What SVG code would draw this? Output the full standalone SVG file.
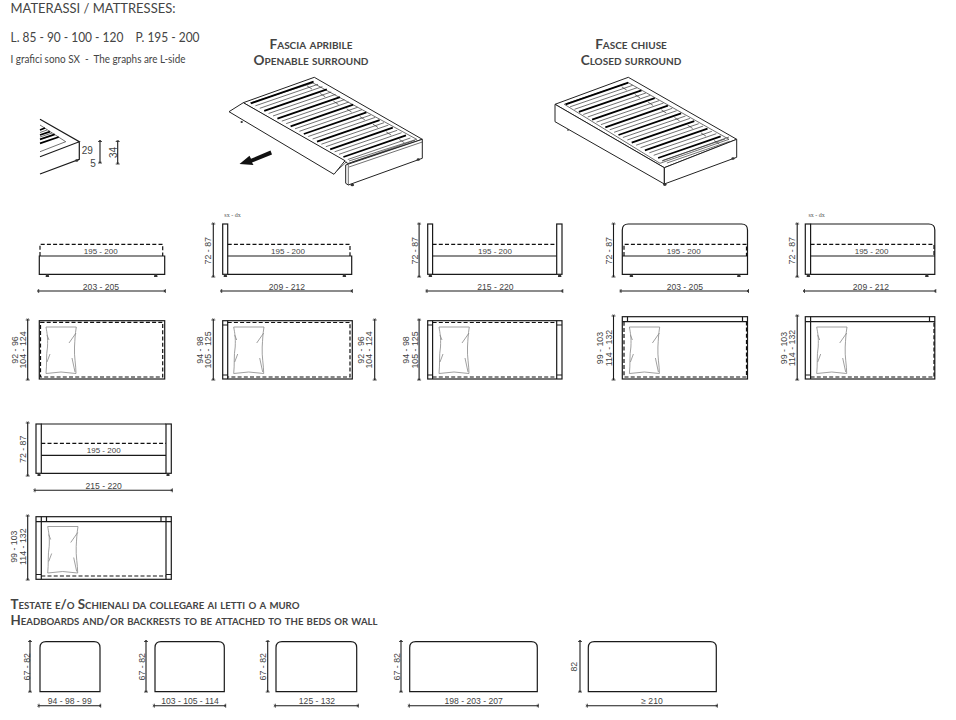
<svg xmlns="http://www.w3.org/2000/svg" xmlns:xlink="http://www.w3.org/1999/xlink" width="956" height="720" viewBox="0 0 956 720">
<style>
.bg{fill:#fff}
.o{fill:none;stroke:#1a1a1a;stroke-width:1.2}
.w{fill:#fff;stroke:#222;stroke-width:1}
.t{fill:none;stroke:#333;stroke-width:.7}
.k{fill:none;stroke:#000;stroke-width:1.8}
.d{fill:none;stroke:#111;stroke-width:1.2;stroke-dasharray:4 2.2}
.f{fill:#333}
.dim{fill:none;stroke:#1a1a1a;stroke-width:1.1;marker-start:url(#tick);marker-end:url(#tick)}
.n{font-family:"Liberation Sans",Arial,sans-serif;font-size:8px;fill:#444;text-anchor:middle}
.r{font-size:8.8px}
.l{font-size:8.6px}
.s{font-family:"Liberation Serif",serif;font-size:6px;fill:#555;text-anchor:middle}
.h{font-family:Lato,"Open Sans",sans-serif;fill:#444}
.c{font-family:Lato,"Open Sans",sans-serif;font-variant:small-caps;font-weight:700;font-size:12.5px;fill:#444}
.e{font-size:13.6px}
.m{text-anchor:middle}
</style>
<defs>
<marker id="tick" markerUnits="userSpaceOnUse" markerWidth="6" markerHeight="6" refX="3" refY="3" orient="auto"><path d="M3,1V5M1.5,2.2 3,3 1.5,3.8" fill="none" stroke="#222" stroke-width=".8"/></marker>
<g id="slat"><path class="k" d="M0,0 62.6,-21.6"/><path class="t" d="M4.4,2.5 67,-19M8.8,5 71.4,-16.6M56,-17.5 61,-14.2"/></g>
<g id="slats"><use xlink:href="#slat"/><use xlink:href="#slat" x="13.2" y="7.67"/><use xlink:href="#slat" x="26.4" y="15.34"/><use xlink:href="#slat" x="39.6" y="23"/><use xlink:href="#slat" x="52.8" y="30.7"/><use xlink:href="#slat" x="66" y="38.4"/><use xlink:href="#slat" x="79.2" y="46"/><use xlink:href="#slat" x="92.4" y="53.7"/></g>
<g id="pillow" fill="none" stroke="#888" stroke-width=".8"><path d="M0,0H30.3C29,8 29,12 28.5,20C28,30 30,38 30,46.5L15,45 0,46.5C1,38 0,28 1.5,20C2,10 1,6 0,0Z"/><path d="M30,6 23,16M1,35 4,27M1,8 3,13M26,31 29,45"/></g>
</defs>
<rect class="bg" width="956" height="720"/>

<g id="header">
<text class="h" x="10.5" y="13" font-size="13" textLength="165" lengthAdjust="spacingAndGlyphs">MATERASSI / MATTRESSES:</text>
<text class="h" x="10.5" y="42" font-size="14" textLength="189" lengthAdjust="spacingAndGlyphs" xml:space="preserve">L. 85 - 90 - 100 - 120    P. 195 - 200</text>
<text class="h" x="10.5" y="63" font-size="11" textLength="175" lengthAdjust="spacingAndGlyphs" xml:space="preserve">I grafici sono SX  -  The graphs are L-side</text>
</g>

<g id="detail-corner">
<path class="o" d="M40,119.3 79.3,141.7 40,156.7M79.3,141.7V159.3L40,174"/>
<path class="t" d="M40,125 65.7,141.7 40,151.7"/>
<path class="k" d="M40,130 45,128M40,135 50,131.7M40,139.3 54.7,134.3M40,143.3 58.7,137"/>
<path class="t" d="M40,132.5 47,130M40,137 52,133"/>
<ellipse class="f" cx="76.7" cy="160.5" rx="1.6" ry="1.3"/>
<text class="n" x="87.3" y="153.5" style="font-size:10px">29</text>
<text class="n" x="93" y="167" style="font-size:10px">5</text>
<text class="n" transform="translate(116.5,152.5) rotate(-90)" style="font-size:10px">34</text>
</g>

<g id="bed-openable">
<path class="w" d="M243.3,102.7 314.3,77.3 422.3,139.3 348,163.5Z"/>
<path class="t" d="M250,103 313,83 416.7,139.3 349,161"/>
<use xlink:href="#slats" x="251" y="103.3"/>
<path class="w" d="M345.7,165 422.3,139.3V158.3L348.3,185 345.7,183.3Z"/>
<path class="t" d="M349,167 422.3,142M348.3,165V185"/>
<path class="w" d="M229,111.7 243.3,102.7 345,160.7 334,174.3Z"/>
<path class="t" d="M336.7,171 346.7,161.7"/>
<ellipse class="f" cx="352.3" cy="185" rx="1.8" ry="1.3"/><ellipse class="f" cx="418.3" cy="159.5" rx="1.6" ry="1.2"/><ellipse class="f" cx="241.7" cy="122" rx="1.2" ry="1"/>
<path fill="#111" d="M239.5,164 249.5,155.7 251,158.8 270.5,150.5 272,154.5 252,162.5 253.5,165Z"/>
<text class="c m e" x="311" y="49">Fascia apribile</text>
<text class="c m e" x="311" y="64.5">Openable surround</text>
</g>

<g id="bed-closed">
<path class="w" d="M555,104.3 628.3,77.3 736.7,139.3 664.3,167.7Z"/>
<path class="t" d="M564.3,104.3 628.3,82.7 729,139.3 660,163.3Z"/>
<use xlink:href="#slats" x="565.7" y="104.3"/>
<path class="w" d="M555,104.3 664.3,167.7 736.7,139.3V157.3L664.3,184 555,121.7Z"/>
<path class="o" d="M664.3,167.7V184"/>
<path class="t" d="M662,161 729,137"/>
<ellipse class="f" cx="664.8" cy="184.6" rx="1.8" ry="1.3"/><ellipse class="f" cx="733" cy="158.5" rx="1.6" ry="1.2"/><ellipse class="f" cx="568" cy="130" rx="1" ry=".8"/>
<text class="c m e" x="631" y="49">Fasce chiuse</text>
<text class="c m e" x="631" y="64.5">Closed surround</text>
</g>

<g id="side-1">
<path class="o" d="M39.3,256H164.7V274.3H39.3Z"/>
<path class="d" d="M40,256V244.3H162.7V256"/>
<path class="f" d="M46,274.3h2.6l.6,2.7h-3.6ZM154.4,274.3h2.6l.6,2.7h-3.6Z"/>
<text class="n" x="100.7" y="254">195 - 200</text>
<text class="n l" x="101" y="290">203 - 205</text>
</g>
<g id="plan-1">
<rect class="o" x="39.3" y="320.7" width="125.4" height="58.3"/>
<rect class="d" x="40.5" y="322.3" width="122.2" height="54.7"/>
<use xlink:href="#pillow" x="46" y="327"/>
<text class="n r" transform="translate(18,350) rotate(-90)">92 - 96</text>
<text class="n r" transform="translate(26.3,350) rotate(-90)">104 - 124</text>
</g>

<g id="side-2">
<text class="s" x="232.5" y="217">sx - dx</text>
<rect class="o" x="222.7" y="224" width="5" height="50.3"/>
<path class="o" d="M227.7,256H351.7V274.3H227.7"/>
<path class="d" d="M227.7,244.3H350V256"/>
<path class="f" d="M224,274.3h2.6l.6,2.7h-3.6ZM343,274.3h2.6l.6,2.7h-3.6Z"/>
<text class="n" x="288" y="254">195 - 200</text>
<text class="n l" x="287" y="290">209 - 212</text>
<text class="n r" transform="translate(211.3,250.7) rotate(-90)">72 - 87</text>
</g>
<g id="plan-2">
<rect class="o" x="222.7" y="320.7" width="129.6" height="58.3"/>
<path class="o" d="M227.7,320.7V379M222.7,325H227.7M222.7,375H227.7"/>
<path class="d" d="M227.7,322.5H350V377H227.7"/>
<use xlink:href="#pillow" x="233.7" y="327"/>
<text class="n r" transform="translate(203,350) rotate(-90)">94 - 98</text>
<text class="n r" transform="translate(211.3,350) rotate(-90)">105 - 125</text>
<text class="n r" transform="translate(363.7,350) rotate(-90)">92 - 96</text>
<text class="n r" transform="translate(372.3,350) rotate(-90)">104 - 124</text>
</g>

<g id="side-3">
<rect class="o" x="427.7" y="224" width="4.9" height="50.3"/>
<rect class="o" x="556.7" y="224" width="5.3" height="50.3"/>
<path class="o" d="M432.6,256H556.7M432.6,274.3H556.7"/>
<path class="d" d="M432.6,244.3H556.7"/>
<path class="f" d="M429,274.3h2.6l.6,2.7h-3.6ZM558.3,274.3h2.6l.6,2.7h-3.6Z"/>
<text class="n" x="495" y="254">195 - 200</text>
<text class="n l" x="495.4" y="290">215 - 220</text>
<text class="n r" transform="translate(418,250.7) rotate(-90)">72 - 87</text>
</g>
<g id="plan-3">
<rect class="o" x="427.7" y="320.7" width="134.3" height="58.3"/>
<path class="o" d="M432.6,320.7V379M556.7,320.7V379M427.7,325H432.6M427.7,375H432.6M556.7,325H562M556.7,375H562"/>
<path class="d" d="M432.6,322.5H556.7M432.6,377H556.7"/>
<use xlink:href="#pillow" x="439" y="327"/>
<text class="n r" transform="translate(408.7,350) rotate(-90)">94 - 98</text>
<text class="n r" transform="translate(417.5,350) rotate(-90)">105 - 125</text>
</g>

<g id="side-4">
<path class="o" d="M622.3,274.3V230Q622.3,224 628.3,224H741.5Q747.5,224 747.5,230V274.3ZM622.3,256H747.5"/>
<path class="d" d="M624,256V244.3H746.5V256"/>
<path class="f" d="M630,274.3h2.6l.6,2.7h-3.6ZM737.5,274.3h2.6l.6,2.7h-3.6Z"/>
<text class="n" x="683.7" y="254">195 - 200</text>
<text class="n l" x="684.8" y="290">203 - 205</text>
<text class="n r" transform="translate(611.5,250.7) rotate(-90)">72 - 87</text>
</g>
<g id="plan-4">
<rect class="o" x="622.3" y="316.7" width="125.2" height="62.3"/>
<path class="o" d="M622.3,321.7H747.5M627.5,316.7V321.7M742.5,316.7V321.7"/>
<path class="d" d="M624,321.7V377H746.5V321.7"/>
<use xlink:href="#pillow" x="629.4" y="327"/>
<text class="n r" transform="translate(603.4,348) rotate(-90)">99 - 103</text>
<text class="n r" transform="translate(612.2,348) rotate(-90)">114 - 132</text>
</g>

<g id="side-5">
<text class="s" x="816.7" y="217">sx - dx</text>
<rect class="o" x="805.3" y="224" width="5.3" height="50.3"/>
<path class="o" d="M810.6,224H928.8Q934.8,224 934.8,230V274.3H810.6M810.6,256H934.8"/>
<path class="d" d="M810.6,244.3H934V256"/>
<path class="f" d="M807,274.3h2.6l.6,2.7h-3.6ZM925.5,274.3h2.6l.6,2.7h-3.6Z"/>
<text class="n" x="871.6" y="254">195 - 200</text>
<text class="n l" x="871" y="290">209 - 212</text>
<text class="n r" transform="translate(795.2,250.7) rotate(-90)">72 - 87</text>
</g>
<g id="plan-5">
<rect class="o" x="805.3" y="316.7" width="129.5" height="62.3"/>
<path class="o" d="M810.6,316.7V379M810.6,321.7H934.8M929.5,316.7V321.7M805.3,321.7H810.6M805.3,375H810.6"/>
<path class="d" d="M810.6,377H934V321.7"/>
<use xlink:href="#pillow" x="816.7" y="327"/>
<text class="n r" transform="translate(786.7,348) rotate(-90)">99 - 103</text>
<text class="n r" transform="translate(795.2,348) rotate(-90)">114 - 132</text>
</g>

<g id="side-6">
<rect class="o" x="36" y="424" width="5.3" height="49.3"/>
<rect class="o" x="166" y="424" width="5.3" height="49.3"/>
<path class="o" d="M41.3,424H166M41.3,455.3H166M41.3,473.3H166"/>
<path class="d" d="M41.3,443.3H166"/>
<path class="f" d="M37.7,473.3h2.6l.3,2.7h-3.2ZM166.7,473.3h2.6l.3,2.7h-3.2Z"/>
<text class="n" x="103.7" y="452.5">195 - 200</text>
<text class="n l" x="103.7" y="489">215 - 220</text>
<text class="n r" transform="translate(25.7,449.3) rotate(-90)">72 - 87</text>
</g>
<g id="plan-6">
<rect class="o" x="36" y="516.7" width="135.3" height="62.6"/>
<path class="o" d="M41.3,516.7V579.3M166,516.7V579.3M36,521.7H171.3M46.5,516.7V521.7M161,516.7V521.7M36,574.5H41.3M166,574.5H171.3"/>
<path class="d" d="M41.3,576H166"/>
<use xlink:href="#pillow" x="47.7" y="526.5"/>
<text class="n r" transform="translate(17.3,546.7) rotate(-90)">99 - 103</text>
<text class="n r" transform="translate(25.7,546.7) rotate(-90)">114 - 132</text>
</g>

<g id="headboards-title">
<text class="c" x="10.5" y="609" textLength="289" lengthAdjust="spacingAndGlyphs">Testate e/o Schienali da collegare ai letti o a muro</text>
<text class="c" x="10.5" y="625" textLength="367" lengthAdjust="spacingAndGlyphs">Headboards and/or backrests to be attached to the beds or wall</text>
</g>
<g id="headboard-1">
<path class="o" d="M40,691.7V647.7Q40,641.7 46,641.7H94Q100,641.7 100,647.7V691.7Z"/>
<text class="n r" transform="translate(29.7,666.7) rotate(-90)">67 - 82</text>
<text class="n l" x="69.7" y="704">94 - 98 - 99</text>
</g>
<g id="headboard-2">
<path class="o" d="M155,691.7V647.7Q155,641.7 161,641.7H218.3Q224.3,641.7 224.3,647.7V691.7Z"/>
<text class="n r" transform="translate(145.3,666.7) rotate(-90)">67 - 82</text>
<text class="n l" x="190" y="704">103 - 105 - 114</text>
</g>
<g id="headboard-3">
<path class="o" d="M276,691.7V647.7Q276,641.7 282,641.7H350.7Q356.7,641.7 356.7,647.7V691.7Z"/>
<text class="n r" transform="translate(266.3,666.7) rotate(-90)">67 - 82</text>
<text class="n l" x="317" y="704">125 - 132</text>
</g>
<g id="headboard-4">
<path class="o" d="M409.7,691.7V647.7Q409.7,641.7 415.7,641.7H531.3Q537.3,641.7 537.3,647.7V691.7Z"/>
<text class="n r" transform="translate(400.3,666.7) rotate(-90)">67 - 82</text>
<text class="n l" x="473.7" y="704">198 - 203 - 207</text>
</g>
<g id="headboard-5">
<path class="o" d="M588.3,691.7V647.7Q588.3,641.7 594.3,641.7H710.3Q716.3,641.7 716.3,647.7V691.7Z"/>
<text class="n r" transform="translate(577.3,666.7) rotate(-90)">82</text>
<text class="n l" x="652" y="704">≥ 210</text>
</g>

<g id="connectors">
<path class="dim" d="M100,141.5V163"/><path class="dim" d="M117.7,141.5V164"/>
<path class="dim" d="M38.7,291H165.3"/><path class="dim" d="M27.7,320V380"/>
<path class="dim" d="M221.7,291H352.3"/><path class="dim" d="M213.3,224V277"/><path class="dim" d="M213.3,320V380"/><path class="dim" d="M374.7,320V380"/>
<path class="dim" d="M427,291H562.8"/><path class="dim" d="M419.1,224V277"/><path class="dim" d="M419.1,320V380"/>
<path class="dim" d="M621,291H748.5"/><path class="dim" d="M613.5,224V277"/><path class="dim" d="M613.5,316V380"/>
<path class="dim" d="M804.5,291H935.8"/><path class="dim" d="M797.2,224V277"/><path class="dim" d="M797.2,316V380"/>
<path class="dim" d="M35,490.3H172.3"/><path class="dim" d="M27.7,423V476"/><path class="dim" d="M27.7,516V580"/>
<path class="dim" d="M30,641.5V692"/><path class="dim" d="M39,705.7H100.7"/>
<path class="dim" d="M146,641.5V692"/><path class="dim" d="M154.3,705.7H225.7"/>
<path class="dim" d="M267.7,641.5V692"/><path class="dim" d="M275.3,705.7H358.3"/>
<path class="dim" d="M401,641.5V692"/><path class="dim" d="M409.3,705.7H538.3"/>
<path class="dim" d="M580,641.5V692"/><path class="dim" d="M587.3,705.7H717.3"/>
</g>
</svg>
